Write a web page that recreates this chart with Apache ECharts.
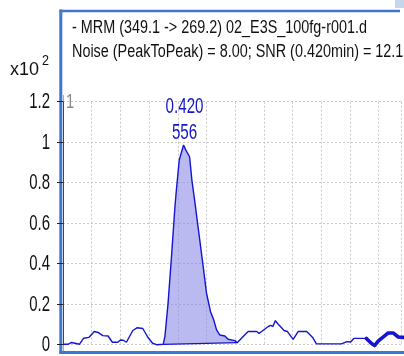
<!DOCTYPE html>
<html>
<head>
<meta charset="utf-8">
<script src="https://cdn.jsdelivr.net/npm/echarts@6/dist/echarts.min.js"></script>
<style>
  html, body { margin: 0; padding: 0; background: #fff; }
  #chart { width: 404px; height: 356px; }
</style>
</head>
<body>
<div id="chart"></div>
<script>
// Chromatogram trace: retention time (min) and intensity (x10^2 counts)
const traceTimes = [
  0.000, 0.017, 0.030, 0.036, 0.057, 0.072, 0.090, 0.109, 0.123, 0.139,
  0.157, 0.172, 0.191, 0.200, 0.210, 0.221, 0.243, 0.259, 0.278, 0.295,
  0.312, 0.326, 0.349, 0.355, 0.366, 0.378, 0.390, 0.395, 0.405, 0.420,
  0.428, 0.441, 0.449, 0.460, 0.472, 0.487, 0.500, 0.514, 0.525, 0.535,
  0.546, 0.564, 0.575, 0.599, 0.607, 0.626, 0.645, 0.675, 0.683, 0.692,
  0.715, 0.724, 0.731, 0.740, 0.749, 0.759, 0.770, 0.782, 0.802, 0.819,
  0.849, 0.869, 0.883, 0.970, 0.976, 0.989, 0.994, 1.002, 1.013, 1.057,
  1.075, 1.086, 1.098, 1.115, 1.133, 1.150, 1.168, 1.186
];
const traceValues = [
  0.002, 0.002, 0.011, 0.002, 0.002, 0.032, 0.036, 0.065, 0.060, 0.045,
  0.043, 0.012, 0.012, 0.023, 0.022, 0.012, 0.070, 0.084, 0.080, 0.038,
  0.007, 0.000, 0.002, 0.040, 0.204, 0.435, 0.681, 0.764, 0.912, 0.986,
  0.961, 0.928, 0.813, 0.698, 0.566, 0.402, 0.254, 0.163, 0.123, 0.073,
  0.048, 0.043, 0.027, 0.020, 0.010, 0.038, 0.065, 0.065, 0.056, 0.065,
  0.090, 0.095, 0.090, 0.119, 0.102, 0.087, 0.070, 0.065, 0.026, 0.065,
  0.065, 0.037, 0.004, 0.004, 0.013, 0.015, 0.023, 0.013, 0.031, 0.031,
  0.006, -0.004, 0.018, 0.037, 0.058, 0.058, 0.038, 0.036
];

// Integrated peak: baseline end points, apex and area
const baselineTimes = [0.349, 0.607];
const baselineValues = [0.002, 0.010];
const peakTime = 0.420;
const peakApex = 0.986;
const peakArea = 556;

// Axis ticks
const yTicks = [0, 0.2, 0.4, 0.6, 0.8, 1, 1.2];
const yTickLabels = ['0', '0.2', '0.4', '0.6', '0.8', '1', '1.2'];
const xTickStep = 0.1;

// Header lines
const headerLines = [
  '- MRM (349.1 -> 269.2) 02_E3S_100fg-r001.d',
  'Noise (PeakToPeak) = 8.00; SNR (0.420min) = 12.1'
];

const FONT = "'Liberation Sans', Arial, sans-serif";
const TRACE = '#1414d2';
const FRAME = '#3d77cf';

const tracePoints = traceTimes.map((t, i) => [t, traceValues[i]]);
const thickStart = 1.057;
const thickPoints = tracePoints.filter(p => p[0] >= thickStart);

// Peak region polygon: trace between the baseline end points, closed along the baseline
const peakPoints = tracePoints.filter(p => p[0] >= baselineTimes[0] && p[0] <= baselineTimes[1]);
const baselinePoints = baselineTimes.map((t, i) => [t, baselineValues[i]]);

const chart = echarts.init(document.getElementById('chart'), null, { renderer: 'canvas' });

chart.setOption({
  animation: false,
  backgroundColor: '#ffffff',
  grid: { left: 63, right: 2.3, top: 101.7, bottom: 11.3, containLabel: false },
  xAxis: {
    type: 'value',
    min: 0,
    max: 1.18,
    interval: xTickStep,
    axisLine: { show: false },
    axisTick: { show: false },
    axisLabel: { show: false },
    splitLine: { show: true, lineStyle: { color: '#c9c9c9', type: [2, 2], width: 1 } }
  },
  yAxis: {
    type: 'value',
    min: yTicks[0],
    max: yTicks[yTicks.length - 1],
    interval: 0.2,
    offset: 5,
    axisLine: { show: true, lineStyle: { color: '#444', width: 1 } },
    axisTick: { show: true, length: 6, lineStyle: { color: '#222' } },
    axisLabel: { show: false },
    splitLine: { show: true, lineStyle: { color: '#c9c9c9', type: [2, 2], width: 1 } }
  },
  series: [
    {
      type: 'custom',
      name: 'peak area',
      silent: true,
      z: 1,
      data: [0],
      renderItem: function (params, api) {
        const pts = peakPoints.map(p => api.coord(p));
        const base = baselinePoints.slice().reverse().map(p => api.coord(p));
        return {
          type: 'polygon',
          shape: { points: pts.concat(base) },
          style: { fill: 'rgba(140,140,230,0.6)', stroke: 'none' }
        };
      }
    },
    {
      type: 'line',
      name: 'baseline',
      data: baselinePoints,
      showSymbol: false,
      silent: true,
      clip: false,
      z: 2,
      lineStyle: { color: TRACE, width: 1.2 }
    },
    {
      type: 'line',
      name: 'trace',
      data: tracePoints,
      showSymbol: false,
      silent: true,
      clip: false,
      z: 3,
      lineStyle: { color: TRACE, width: 1.4 }
    },
    {
      type: 'line',
      name: 'trace end',
      data: thickPoints,
      showSymbol: false,
      silent: true,
      clip: false,
      z: 3,
      lineStyle: { color: TRACE, width: 3.6, join: 'round', cap: 'round' }
    }
  ]
});

// Condensed text: y tick labels, peak annotation, header and frame
function squeezedText(x, y, text, size, color, align, scale) {
  return {
    type: 'text', x: x, y: y, scaleX: scale, z: 10, silent: true,
    style: { text: text, font: size + 'px ' + FONT, fill: color, align: align, verticalAlign: 'middle' }
  };
}

const graphics = [
  { type: 'rect', shape: { x: 395, y: 0, width: 9, height: 8 }, style: { fill: '#c6d6ea' } },
  { type: 'line', shape: { x1: 63.5, y1: 95, x2: 63.5, y2: 351 }, style: { stroke: '#a8a8a8', lineWidth: 1 } },
  { type: 'line', shape: { x1: 60.8, y1: 9.5, x2: 60.8, y2: 354 }, style: { stroke: FRAME, lineWidth: 3 } },
  { type: 'line', shape: { x1: 59.5, y1: 11, x2: 400, y2: 11 }, style: { stroke: FRAME, lineWidth: 2.5 } },
  { type: 'line', shape: { x1: 59.5, y1: 352.5, x2: 404, y2: 352.5 }, style: { stroke: FRAME, lineWidth: 3 } },
  squeezedText(72, 28, headerLines[0], 18, '#111', 'left', 0.8),
  squeezedText(72, 52, headerLines[1], 18, '#111', 'left', 0.8),
  squeezedText(10, 70, 'x10', 18, '#111', 'left', 1),
  squeezedText(42, 61, '2', 14, '#111', 'left', 0.9),
  squeezedText(66, 102, '1', 21, '#8a8a8a', 'left', 0.7)
];

yTicks.forEach((v, i) => {
  const py = chart.convertToPixel({ gridIndex: 0 }, [0, v])[1];
  graphics.push(squeezedText(50, py + 0.5, yTickLabels[i], 22, '#111', 'right', 0.68));
});

const apex = chart.convertToPixel({ gridIndex: 0 }, [peakTime, peakApex]);
graphics.push(squeezedText(apex[0] + 1, apex[1] - 38, peakTime.toFixed(3), 22, '#1515cc', 'center', 0.69));
graphics.push(squeezedText(apex[0] + 1, apex[1] - 12, String(peakArea), 22, '#1515cc', 'center', 0.69));

chart.setOption({ graphic: graphics });
</script>
</body>
</html>
